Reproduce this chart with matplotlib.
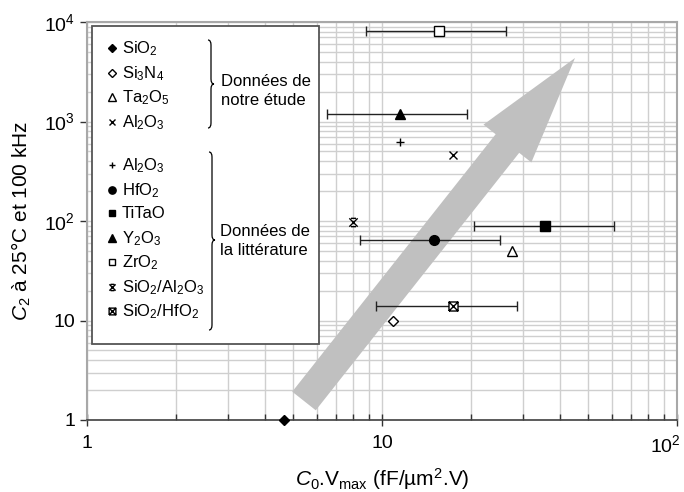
import numpy as np
import matplotlib
matplotlib.use("Agg")
import matplotlib.pyplot as plt
import matplotlib.patches as mpatches
import matplotlib.transforms as mtransforms
from matplotlib.path import Path
from matplotlib.lines import Line2D
from matplotlib.ticker import FixedLocator, FixedFormatter, LogLocator, NullFormatter

plt.rcParams['font.family'] = ['Liberation Sans', 'DejaVu Sans']
plt.rcParams['mathtext.fontset'] = 'custom'
plt.rcParams['mathtext.rm'] = 'Liberation Sans'
plt.rcParams['mathtext.it'] = 'Liberation Sans:italic'
plt.rcParams['mathtext.bf'] = 'Liberation Sans:bold'

# Data
labels = ["SiO$_2$", "Si$_3$N$_4$", "Ta$_2$O$_5$", "Al$_2$O$_3$",
          "Al$_2$O$_3$", "HfO$_2$", "TiTaO", "Y$_2$O$_3$", "ZrO$_2$",
          "SiO$_2$/Al$_2$O$_3$", "SiO$_2$/HfO$_2$"]
c0vmax = [4.65, 10.9, 27.5, 17.4, 11.5, 15.0, 35.7, 11.5, 15.6, 8.0, 17.4]
c2 = [1, 10, 50, 460, 620, 64, 89, 1190, 8100, 98, 14]
err_low = [None, None, None, None, None, 8.4, 20.5, 6.5, 8.8, None, 9.55]
err_high = [None, None, None, None, None, 25.1, 61.0, 19.4, 26.3, None, 28.7]
group_text = ["Données de\nnotre étude", "Données de\nla littérature"]

# custom markers
M, L = Path.MOVETO, Path.LINETO
xbar = Path([(-1, -1), (1, 1), (-1, 1), (1, -1), (-0.6, 1), (0.6, 1), (-0.6, -1), (0.6, -1)],
            [M, L, M, L, M, L, M, L])
boxx = Path([(-1, -1), (1, -1), (1, 1), (-1, 1), (-1, -1), (-1, -1), (1, 1), (-1, 1), (1, -1)],
            [M, L, L, L, L, M, L, M, L])

styles = [
    dict(marker='D', mfc='k', ms=5.5),
    dict(marker='D', mfc='white', ms=5.5),
    dict(marker='^', mfc='white', ms=7),
    dict(marker='x', mfc='k', ms=6),
    dict(marker='+', mfc='k', ms=6),
    dict(marker='o', mfc='k', ms=7),
    dict(marker='s', mfc='k', ms=6.5),
    dict(marker='^', mfc='k', ms=7.5),
    dict(marker='s', mfc='white', ms=6.5),
    dict(marker=xbar, mfc='none', ms=6),
    dict(marker=boxx, mfc='white', ms=6.5),
]

W, H = 684, 492
fig = plt.figure(figsize=(W / 100, H / 100), dpi=100)
ax = fig.add_axes([87 / W, 1 - 420 / H, 590 / W, 398 / H])
pix = mtransforms.Affine2D().scale(1 / W, -1 / H).translate(0, 1) + fig.transFigure

ax.set_xscale('log')
ax.set_yscale('log')
ax.set_xlim(1, 100)
ax.set_ylim(1, 1e4)

ax.xaxis.set_major_locator(FixedLocator([1, 10, 100]))
ax.xaxis.set_major_formatter(FixedFormatter(["1", "10", "10$^2$"]))
ax.yaxis.set_major_locator(FixedLocator([1, 10, 100, 1000, 10000]))
ax.yaxis.set_major_formatter(FixedFormatter(["1", "10", "10$^2$", "10$^3$", "10$^4$"]))
ax.xaxis.set_minor_locator(LogLocator(base=10, subs=np.arange(2, 10), numticks=20))
ax.yaxis.set_minor_locator(LogLocator(base=10, subs=np.arange(2, 10), numticks=20))
ax.xaxis.set_minor_formatter(NullFormatter())
ax.yaxis.set_minor_formatter(NullFormatter())

ax.grid(True, which='both', color='#cfcfcf', lw=1.0, zorder=0)
ax.set_axisbelow(True)
ax.tick_params(axis='x', which='major', direction='inout', length=9, width=1,
               labelsize=14, pad=6, color='#333333')
ax.tick_params(axis='x', which='minor', direction='in', length=4, width=1, color='#333333')
ax.tick_params(axis='y', which='major', direction='out', length=5, width=1,
               labelsize=14, color='#333333')
ax.tick_params(axis='y', which='minor', length=0)

for side in ['left', 'top', 'right']:
    ax.spines[side].set_color('#a8a8a8')
    ax.spines[side].set_linewidth(1.5)
ax.spines['bottom'].set_color('#404040')
ax.spines['bottom'].set_linewidth(1.2)

ax.set_xlabel(r"$C_0$.V$_{\rm max}$ (fF/µm$^2$.V)", fontsize=15, labelpad=7)
ax.set_ylabel(r"$C_2$ à 25°C et 100 kHz", fontsize=15, labelpad=8)

# last x tick label sits left of its tick so it stays inside the picture
last = ax.get_xticklabels()[-1]
last.set_horizontalalignment('right')
last.set_transform(last.get_transform() + mtransforms.ScaledTranslation(4 / 100, 0, fig.dpi_scale_trans))

# big grey arrow
arrow = mpatches.FancyArrow(304, 401, 271, -343, width=30, head_width=61,
                            head_length=109, length_includes_head=True,
                            color='#c0c0c0', lw=0, transform=pix, zorder=3, clip_on=False)
ax.add_patch(arrow)

# data points
for i in range(len(labels)):
    st = styles[i]
    kw = dict(marker=st['marker'], ms=st['ms'], mfc=st['mfc'], mec='k', mew=1,
              color='k', ls='none', zorder=5, clip_on=False)
    if err_low[i] is not None:
        xe = [[c0vmax[i] - err_low[i]], [err_high[i] - c0vmax[i]]]
        ax.errorbar([c0vmax[i]], [c2[i]], xerr=xe, ecolor='#222222', elinewidth=1,
                    capsize=3.5, capthick=1, **kw)
    else:
        ax.plot([c0vmax[i]], [c2[i]], **kw)

# legend box
box = mpatches.Rectangle((92, 26), 227, 318, transform=pix, facecolor='white',
                         edgecolor='#555555', lw=1.3, zorder=6)
fig.add_artist(box)
leg_y = [48, 73, 97, 122, 165, 190, 213, 238, 262, 287, 311]
for i in range(len(labels)):
    st = styles[i]
    ms = st['ms'] * 0.75
    fig.add_artist(Line2D([112], [leg_y[i]], marker=st['marker'], ms=ms, mfc=st['mfc'],
                          mec='k', mew=1, ls='none', transform=pix, zorder=7))
    fig.text(122, leg_y[i] + 5, labels[i], transform=pix, fontsize=12,
             va='baseline', ha='left', zorder=7)


def brace(x, y0, y1, ymid, w):
    r = 5
    xm = x + w * 0.5
    verts = [(x, y0), (xm, y0), (xm, y0 + r),
             (xm, ymid - r), (xm, ymid), (x + w, ymid),
             (xm, ymid), (xm, ymid + r),
             (xm, y1 - r), (xm, y1), (x, y1)]
    codes = [M, Path.CURVE3, Path.CURVE3,
             L, Path.CURVE3, Path.CURVE3,
             Path.CURVE3, Path.CURVE3,
             L, Path.CURVE3, Path.CURVE3]
    fig.add_artist(mpatches.PathPatch(Path(verts, codes), transform=pix, fill=False,
                                      lw=0.9, edgecolor='k', zorder=7))


brace(208, 40, 128, 84, 6)
brace(209, 152, 330, 240, 6)
fig.text(221, 91, group_text[0], transform=pix, fontsize=12, va='center', ha='left',
         linespacing=1.4, zorder=7)
fig.text(220, 241, group_text[1], transform=pix, fontsize=12, va='center', ha='left',
         linespacing=1.4, zorder=7)

fig.savefig("out.png", dpi=100)
